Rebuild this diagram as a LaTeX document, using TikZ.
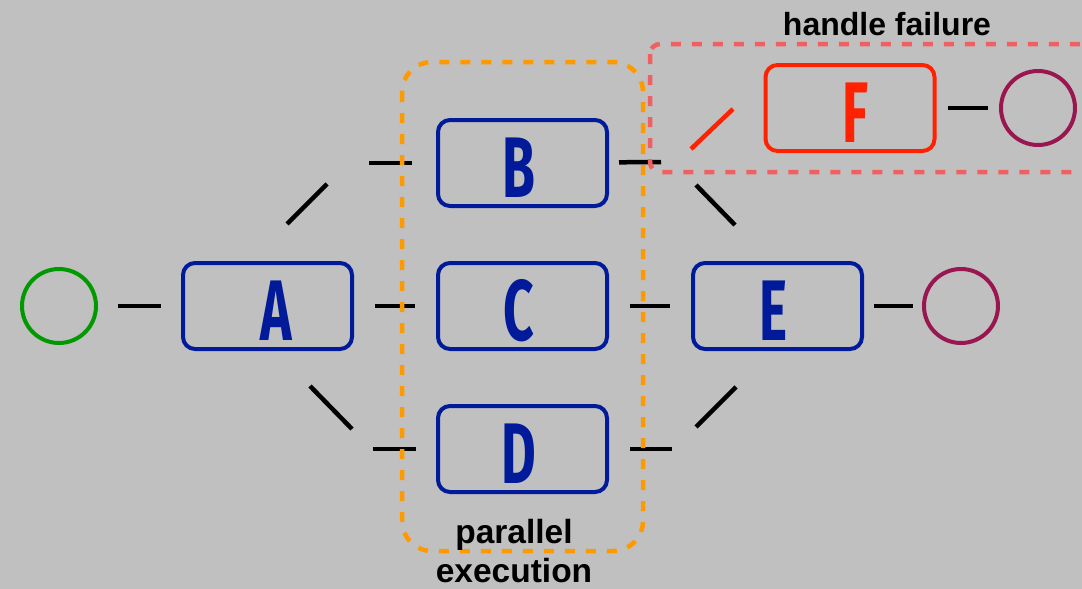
\documentclass[tikz,border=0pt]{standalone}
\usepackage{fontspec}
\setmainfont{Liberation Sans}
\newfontfamily\letterfont{Fira Sans}
\usetikzlibrary{calc}
\definecolor{bg}{HTML}{C0C0C0}
\definecolor{taskblue}{HTML}{001A99}
\definecolor{failred}{HTML}{FF2200}
\definecolor{startgreen}{HTML}{009900}
\definecolor{endplum}{HTML}{991650}
\definecolor{grouporange}{HTML}{FF9900}
\definecolor{groupred}{HTML}{F06060}
% narrow, tall task letter
\newcommand{\tasklet}[2][0pt]{\hspace*{#1}\scalebox{0.62}[1]{#2}}
\begin{document}
\begin{tikzpicture}[x=1pt,y=-1pt,
  task/.style={draw=taskblue, line width=4pt, rounded corners=12pt,
    minimum width=169pt, minimum height=86pt, inner sep=0pt, text=taskblue,
    text height=70pt, text depth=2pt,
    font=\letterfont\bfseries\fontsize{86}{86}\selectfont},
  failtask/.style={task, draw=failred, text=failred},
  startev/.style={circle, draw=startgreen, line width=4pt, minimum size=74pt, inner sep=0pt},
  endev/.style={circle, draw=endplum, line width=4pt, minimum size=74pt, inner sep=0pt},
  conn/.style={draw=black, line width=4.5pt},
  failconn/.style={draw=failred, line width=4.5pt},
  groupbox/.style={line width=4.5pt, dash pattern=on 10pt off 11pt},
  grouplabel/.style={font=\bfseries\fontsize{32}{38}\selectfont, text=black, align=center}]

% canvas
\fill[bg] (0,0) rectangle (1082,589);
\useasboundingbox (0,0) rectangle (1082,589);

% events and tasks
\node[startev] (S) at (59,306) {};
\node[task] (A) at (267.5,306) {\tasklet[18pt]{A}};
\node[task] (B) at (522.5,163) {\tasklet[-8pt]{B}};
\node[task] (C) at (522.5,306) {\tasklet[-8pt]{C}};
\node[task] (D) at (522.5,449) {\tasklet[-8pt]{D}};
\node[task] (E) at (777.5,306) {\tasklet[-8pt]{E}};
\node[failtask] (F) at (850,108) {\tasklet[10pt]{F}};
\node[endev] (End) at (961,306) {};
\node[endev] (FailEnd) at (1038,108) {};

% straight connectors
\draw[conn, shorten <=20pt, shorten >=20pt] (S) -- (A);
\draw[conn, shorten <=21pt, shorten >=21pt] (A) -- (C);
\draw[conn, shorten <=21pt, shorten >=21pt] (C) -- (E);
\draw[conn, shorten <=10pt, shorten >=9pt] (E) -- (End);
\draw[conn, shorten <=11pt, shorten >=11pt] (F) -- (FailEnd);

% split from A to B and D
\coordinate (ab1) at (287,224); \coordinate (ab2) at (327,184);
\coordinate (ab3) at (369,163);
\draw[conn] (ab1) -- (ab2);
\draw[conn, shorten >=24pt] (ab3) -- (B);
\coordinate (ad1) at (310,386); \coordinate (ad2) at (352,429);
\coordinate (ad3) at (373,449);
\draw[conn] (ad1) -- (ad2);
\draw[conn, shorten >=20pt] (ad3) -- (D);

% join from B and D into E
\coordinate (be1) at (661,162);
\draw[conn, shorten <=10pt] (B) -- (be1);
\coordinate (be2) at (696,185); \coordinate (be3) at (735,225);
\draw[conn] (be2) -- (be3);
\coordinate (de1) at (672,449);
\draw[conn, shorten <=21pt] (D) -- (de1);
\coordinate (de2) at (696,427); \coordinate (de3) at (736,387);
\draw[conn] (de2) -- (de3);

% failure path into F
\coordinate (bf1) at (691,149); \coordinate (bf2) at (733,109);
\draw[failconn] (bf1) -- (bf2);

% groups
\draw[groupbox, draw=grouporange, rounded corners=30pt] (402,62) rectangle (643,551);
\draw[groupbox, draw=groupred, rounded corners=10pt] (650,44) rectangle (1095,172);

% group labels
\node[grouplabel] (hf) at (887,24) {handle failure};
\node[grouplabel, font=\bfseries\fontsize{33.5}{39}\selectfont] (pe) at (514,551) {parallel\\execution};
\end{tikzpicture}
\end{document}
